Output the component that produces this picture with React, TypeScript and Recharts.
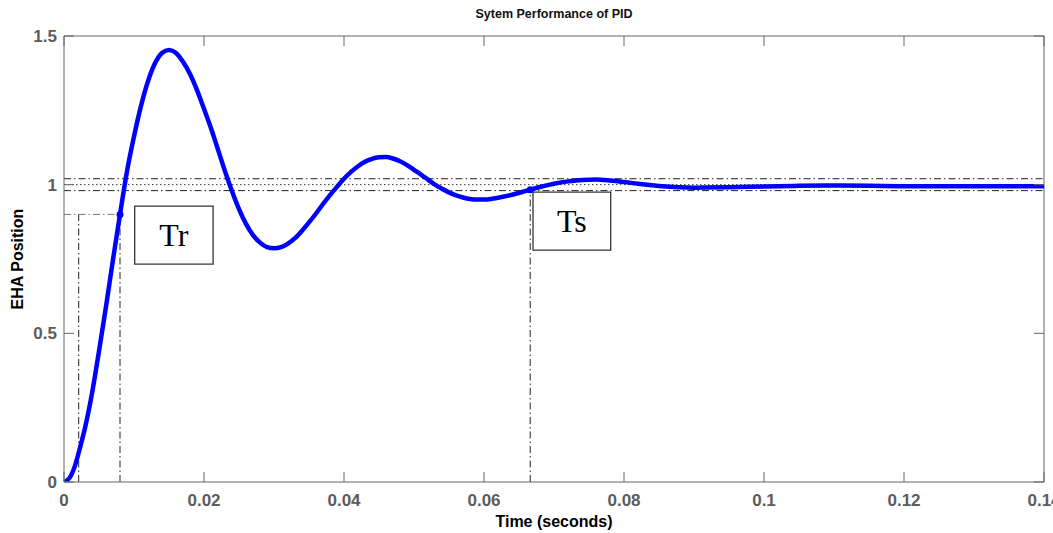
import React from 'react';
import {
  ComposedChart,
  Line,
  Scatter,
  XAxis,
  YAxis,
  ReferenceLine,
  ReferenceArea,
} from 'recharts';

// step response (time in s, EHA position)
const timeS = [
  0, 0.0005, 0.001, 0.0015, 0.002, 0.0025, 0.003, 0.004, 0.005, 0.006,
  0.007, 0.008, 0.009, 0.01, 0.011, 0.012, 0.013, 0.014, 0.015, 0.016,
  0.017, 0.018, 0.019, 0.02, 0.021, 0.022, 0.023, 0.024, 0.025, 0.026,
  0.027, 0.028, 0.029, 0.03, 0.031, 0.032, 0.033, 0.034, 0.035, 0.036,
  0.037, 0.038, 0.039, 0.04, 0.041, 0.042, 0.043, 0.044, 0.045, 0.046,
  0.047, 0.048, 0.049, 0.05, 0.051, 0.052, 0.053, 0.054, 0.055, 0.056,
  0.057, 0.058, 0.059, 0.06, 0.061, 0.062, 0.064, 0.066, 0.068, 0.07,
  0.072, 0.074, 0.076, 0.078, 0.08, 0.082, 0.084, 0.086, 0.088, 0.09,
  0.095, 0.1, 0.105, 0.11, 0.115, 0.12, 0.13, 0.14,
];
const position = [
  0, 0.006, 0.022, 0.05, 0.09, 0.135, 0.182, 0.298, 0.44, 0.59,
  0.748, 0.9, 1.045, 1.162, 1.265, 1.348, 1.408, 1.443, 1.453, 1.443,
  1.413, 1.372, 1.318, 1.255, 1.19, 1.118, 1.045, 0.978, 0.918, 0.868,
  0.83, 0.805, 0.79, 0.786, 0.79, 0.802, 0.82, 0.845, 0.873, 0.903,
  0.935, 0.965, 0.993, 1.02, 1.043, 1.062, 1.077, 1.087, 1.092, 1.093,
  1.088, 1.079, 1.066, 1.05, 1.034, 1.017, 1.0, 0.986, 0.974, 0.964,
  0.957, 0.952, 0.95, 0.95, 0.952, 0.956, 0.966, 0.979, 0.992, 1.003,
  1.011, 1.016, 1.017, 1.014, 1.009, 1.003, 0.998, 0.994, 0.991, 0.99,
  0.991, 0.994, 0.996, 0.997, 0.996, 0.995, 0.995, 0.995,
];

const xTicks = [0, 0.02, 0.04, 0.06, 0.08, 0.1, 0.12, 0.14];
const yTicks = [0, 0.5, 1, 1.5];

// settling band and rise / settling time markers
const bandUpper = 1.02;
const bandTarget = 1.0;
const bandLower = 0.98;
const riseLevel = 0.9;
const riseStart = 0.0021;
const riseEnd = 0.008;
const settleTime = 0.0666;
const markerTimes = [0.008, 0.0666];
const markerValues = [0.9, 0.983];

// annotation boxes [t1, t2, v1, v2]
const trBox = [0.0101, 0.0213, 0.733, 0.928];
const tsBox = [0.067, 0.0781, 0.78, 0.975];

const curve = timeS.map((t, i) => ({ t, v: position[i] }));
const markers = markerTimes.map((t, i) => ({ t, v: markerValues[i] }));

const W = 1053;
const H = 533;
const LEFT = 64;
const RIGHT = 1044;
const TOP = 36;
const BOTTOM = 482;
const AXIS = '#666';
const TICK_TXT = '#5c5c5c';
const FONT = '"Liberation Sans", Arial, sans-serif';
const DASHDOT = '7 3 1.5 3';

const XTick = ({ x, payload }: any) => (
  <g>
    <line x1={x} x2={x} y1={BOTTOM} y2={BOTTOM - 10} stroke={AXIS} />
    <line x1={x} x2={x} y1={TOP} y2={TOP + 10} stroke={AXIS} />
    <text x={x} y={506} textAnchor="middle" fontFamily={FONT} fontSize={17} fontWeight="bold" fill={TICK_TXT}>
      {String(payload.value)}
    </text>
  </g>
);

const YTick = ({ y, payload }: any) => (
  <g>
    <line x1={LEFT} x2={LEFT + 10} y1={y} y2={y} stroke={AXIS} />
    <line x1={RIGHT} x2={RIGHT - 10} y1={y} y2={y} stroke={AXIS} />
    <text x={57} y={y + 6} textAnchor="end" fontFamily={FONT} fontSize={17} fontWeight="bold" fill={TICK_TXT}>
      {String(payload.value)}
    </text>
  </g>
);

const boxLabel = (text: string) => ({
  value: text,
  position: 'center' as const,
  fontFamily: '"Liberation Serif", "Times New Roman", serif',
  fontSize: 32,
  fill: '#000',
});

export default function App() {
  return (
    <div style={{ position: 'absolute', left: 0, top: 0, width: W, height: H, background: '#fff' }}>
      <ComposedChart width={W} height={H} margin={{ top: TOP, right: W - RIGHT, bottom: 0, left: 0 }}>
        <XAxis
          type="number"
          dataKey="t"
          domain={[0, 0.14]}
          ticks={xTicks}
          interval={0}
          tick={(p: any) => <XTick {...p} />}
          tickLine={false}
          axisLine={{ stroke: AXIS }}
          height={H - BOTTOM}
          allowDataOverflow
        />
        <YAxis
          type="number"
          domain={[0, 1.5]}
          ticks={yTicks}
          interval={0}
          tick={(p: any) => <YTick {...p} />}
          tickLine={false}
          axisLine={{ stroke: AXIS }}
          width={LEFT}
          allowDataOverflow
        />
        <ReferenceLine y={1.5} stroke={AXIS} />
        <ReferenceLine x={0.14} stroke={AXIS} />

        <ReferenceLine y={bandUpper} stroke="#222" strokeDasharray={DASHDOT} />
        <ReferenceLine y={bandTarget} stroke="#333" strokeDasharray="1.5 2.5" />
        <ReferenceLine y={bandLower} stroke="#222" strokeDasharray={DASHDOT} />
        <ReferenceLine
          segment={[{ x: 0, y: riseLevel }, { x: riseEnd, y: riseLevel }]}
          stroke="#777"
          strokeDasharray={DASHDOT}
        />
        <ReferenceLine
          segment={[{ x: riseStart, y: 0 }, { x: riseStart, y: riseLevel }]}
          stroke="#222"
          strokeDasharray={DASHDOT}
        />
        <ReferenceLine
          segment={[{ x: riseEnd, y: 0 }, { x: riseEnd, y: riseLevel }]}
          stroke="#222"
          strokeDasharray={DASHDOT}
        />
        <ReferenceLine
          segment={[{ x: settleTime, y: 0 }, { x: settleTime, y: bandLower }]}
          stroke="#222"
          strokeDasharray={DASHDOT}
        />

        <Line
          data={curve}
          dataKey="v"
          type="monotone"
          stroke="#0000ff"
          strokeWidth={4.5}
          dot={false}
          isAnimationActive={false}
        />
        <Scatter
          data={markers}
          dataKey="v"
          isAnimationActive={false}
          shape={(p: any) => <circle cx={p.cx} cy={p.cy} r={3.5} fill="#0000ff" />}
        />

        <ReferenceArea
          x1={trBox[0]} x2={trBox[1]} y1={trBox[2]} y2={trBox[3]}
          fill="#fff" fillOpacity={1} stroke="#333" strokeWidth={1.3}
          label={boxLabel('Tr')}
        />
        <ReferenceArea
          x1={tsBox[0]} x2={tsBox[1]} y1={tsBox[2]} y2={tsBox[3]}
          fill="#fff" fillOpacity={1} stroke="#333" strokeWidth={1.3}
          label={boxLabel('Ts')}
        />
      </ComposedChart>

      <div style={{ position: 'absolute', left: LEFT, width: RIGHT - LEFT, top: 6, lineHeight: '16px', textAlign: 'center', fontFamily: FONT, fontSize: 12.5, fontWeight: 'bold', color: '#111' }}>
        Sytem Performance of PID
      </div>
      <div style={{ position: 'absolute', left: LEFT, width: RIGHT - LEFT, top: 512, lineHeight: '20px', textAlign: 'center', fontFamily: FONT, fontSize: 16, fontWeight: 'bold', color: '#000' }}>
        Time (seconds)
      </div>
      <div style={{ position: 'absolute', left: 18 - 100, top: (TOP + BOTTOM) / 2 - 10, width: 200, lineHeight: '20px', textAlign: 'center', transform: 'rotate(-90deg)', fontFamily: FONT, fontSize: 16, fontWeight: 'bold', color: '#000' }}>
        EHA Position
      </div>
    </div>
  );
}
